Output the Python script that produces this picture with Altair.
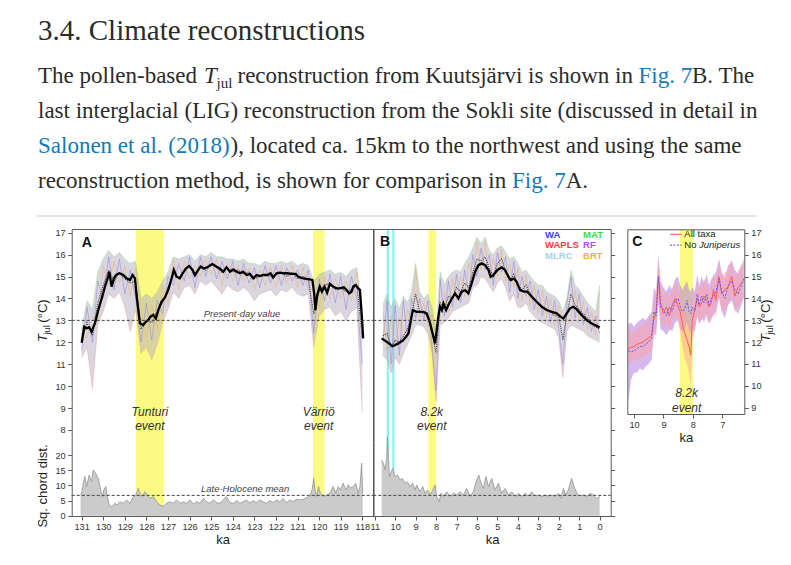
import altair as alt
import pandas as pd

SERIF = "Liberation Serif"
SANS = "Liberation Sans"
INK = "#2b2b2b"
LINK = "#1479b8"
YELLOW = "#fbfb84"
CYAN = "#86f2f6"

# ------------------------------------------------------------------ data
# Panel A (Sokli, LIG): smoothed Tjul (age ka, degC)
A_SMOOTH = [(131.00, 11.98), (130.88, 12.71), (130.77, 12.64), (130.65, 12.68), (130.54, 12.49),
            (130.38, 12.87), (130.23, 13.47), (130.07, 14.01), (129.92, 14.54), (129.77, 14.99),
            (129.72, 15.22), (129.61, 14.54), (129.50, 14.92), (129.41, 15.07), (129.26, 15.15),
            (129.07, 15.07), (128.92, 14.92), (128.76, 14.84), (128.64, 15.07), (128.53, 14.92),
            (128.45, 14.08), (128.30, 12.87), (128.15, 12.79), (128.02, 12.94), (127.91, 13.02),
            (127.81, 13.17), (127.68, 13.25), (127.56, 13.09), (127.45, 13.47), (127.30, 13.85),
            (127.14, 14.05), (126.99, 14.39), (126.83, 14.92), (126.73, 15.30), (126.60, 14.99),
            (126.45, 14.92), (126.32, 15.15), (126.17, 15.37), (126.02, 15.48), (125.86, 15.30),
            (125.75, 15.07), (125.60, 15.30), (125.49, 15.45), (125.34, 15.37), (125.14, 15.45),
            (124.94, 15.57), (124.75, 15.45), (124.60, 15.37), (124.44, 15.22), (124.29, 15.42),
            (124.13, 15.22), (123.98, 15.33), (123.82, 15.22), (123.67, 15.15), (123.52, 15.22),
            (123.36, 15.07), (123.21, 15.12), (123.05, 14.92), (122.90, 15.07), (122.74, 15.02),
            (122.59, 15.07), (122.40, 15.07), (122.25, 15.15), (122.13, 14.96), (121.97, 15.15),
            (121.82, 15.18), (121.66, 15.15), (121.48, 15.15), (121.28, 15.12), (121.08, 15.12),
            (120.97, 14.99), (120.74, 14.92), (120.43, 14.87), (120.31, 14.84), (120.23, 14.23),
            (120.17, 13.47), (120.09, 14.16), (119.97, 14.54), (119.87, 14.31), (119.75, 14.54),
            (119.63, 14.26), (119.50, 14.66), (119.35, 14.54), (119.19, 14.46), (119.04, 14.46),
            (118.85, 14.51), (118.73, 14.39), (118.61, 14.23), (118.50, 14.31), (118.42, 14.54),
            (118.30, 14.61), (118.19, 14.46), (118.11, 14.39), (118.01, 13.02), (117.96, 12.18)]

# Panel A: spread of the six reconstructions (age, max, min, two individual methods, raw mean)
A_NOISE = [(131.00, 12.6, 11.3, 11.6, 12.4, 12.0), (130.75, 13.9, 11.8, 13.6, 12.2, 12.9),
           (130.50, 13.5, 9.9, 12.0, 13.2, 12.3), (130.25, 15.2, 12.8, 14.8, 13.0, 13.8),
           (130.00, 15.8, 13.4, 14.0, 15.5, 14.6), (129.75, 16.2, 14.2, 15.9, 14.6, 15.3),
           (129.50, 15.9, 14.0, 14.4, 15.7, 14.8), (129.25, 16.1, 14.3, 15.8, 14.7, 15.2),
           (129.00, 15.8, 13.6, 14.2, 15.5, 14.9), (128.75, 15.6, 12.5, 15.3, 14.1, 14.7),
           (128.50, 15.7, 13.5, 14.0, 15.4, 14.8), (128.25, 14.0, 11.5, 12.0, 13.6, 12.6),
           (128.00, 14.2, 11.8, 13.8, 12.2, 13.0), (127.75, 14.0, 11.2, 12.1, 13.7, 12.9),
           (127.50, 14.3, 11.9, 13.9, 12.6, 13.4), (127.25, 14.8, 12.9, 13.3, 14.6, 13.8),
           (127.00, 15.2, 13.5, 15.0, 13.8, 14.5), (126.75, 15.9, 14.3, 14.6, 15.8, 15.1),
           (126.50, 15.8, 14.0, 15.6, 14.4, 14.9), (126.25, 15.9, 14.5, 14.8, 15.7, 15.3),
           (126.00, 16.0, 14.6, 15.9, 14.9, 15.5), (125.75, 15.7, 14.2, 14.5, 15.5, 15.0),
           (125.50, 16.0, 14.8, 15.9, 15.0, 15.5), (125.25, 15.9, 14.6, 15.0, 15.8, 15.3),
           (125.00, 16.1, 14.8, 15.9, 15.1, 15.6), (124.75, 15.9, 14.5, 14.9, 15.8, 15.4),
           (124.50, 15.9, 14.2, 15.7, 14.6, 15.2), (124.25, 15.8, 14.6, 14.9, 15.6, 15.4),
           (124.00, 15.8, 14.4, 15.7, 14.8, 15.2), (123.75, 15.7, 14.3, 14.6, 15.5, 15.3),
           (123.50, 15.8, 14.5, 15.6, 14.8, 15.1), (123.25, 15.6, 14.3, 14.7, 15.4, 15.2),
           (123.00, 15.6, 13.9, 15.4, 14.4, 14.9), (122.75, 15.5, 14.2, 14.5, 15.3, 15.0),
           (122.50, 15.7, 14.3, 15.5, 14.6, 15.1), (122.25, 15.6, 14.4, 14.7, 15.4, 15.0),
           (122.00, 15.6, 14.1, 15.5, 14.5, 15.1), (121.75, 15.7, 14.4, 14.6, 15.5, 15.2),
           (121.50, 15.6, 14.3, 15.4, 14.7, 15.0), (121.25, 15.7, 14.5, 14.8, 15.5, 15.2),
           (121.00, 15.5, 14.2, 15.3, 14.5, 14.9), (120.75, 15.6, 14.1, 14.6, 15.4, 15.0),
           (120.50, 15.5, 14.2, 15.3, 14.4, 14.8), (120.25, 14.8, 11.8, 12.4, 14.2, 13.3),
           (120.00, 15.1, 13.2, 14.9, 13.6, 14.3), (119.75, 15.2, 13.5, 13.9, 15.0, 14.6),
           (119.50, 15.3, 13.6, 15.1, 14.0, 14.7), (119.25, 15.1, 13.2, 13.8, 14.9, 14.4),
           (119.00, 15.2, 13.4, 15.0, 14.0, 14.5), (118.75, 15.0, 13.0, 13.5, 14.8, 14.3),
           (118.50, 15.3, 13.4, 15.0, 13.9, 14.4), (118.25, 15.4, 13.6, 14.0, 15.2, 14.6),
           (118.00, 13.5, 8.8, 11.0, 12.8, 12.2)]

# Panel A: squared chord distance to nearest modern analogue
A_CHORD = [(131.05, 7.0), (131.00, 7.4), (130.92, 10.7), (130.85, 12.9), (130.77, 9.6), (130.65, 13.4),
           (130.54, 11.2), (130.46, 15.1), (130.35, 14.0), (130.23, 12.3), (130.12, 8.5), (130.03, 6.3),
           (129.97, 8.6), (129.88, 9.6), (129.81, 6.3), (129.72, 3.5), (129.61, 3.0), (129.46, 4.1),
           (129.35, 3.5), (129.23, 4.6), (129.07, 4.1), (128.92, 5.2), (128.76, 4.1), (128.61, 6.3),
           (128.49, 6.8), (128.38, 9.0), (128.30, 7.4), (128.18, 6.3), (128.07, 7.9), (127.96, 6.8),
           (127.84, 5.7), (127.68, 6.3), (127.53, 4.6), (127.38, 3.5), (127.22, 3.0), (127.07, 4.1),
           (126.91, 4.6), (126.76, 4.1), (126.60, 5.2), (126.45, 4.1), (126.29, 4.6), (126.14, 4.1),
           (125.98, 5.2), (125.83, 3.8), (125.68, 4.6), (125.52, 4.1), (125.37, 5.7), (125.21, 4.6),
           (125.06, 4.1), (124.90, 5.2), (124.75, 4.3), (124.60, 4.1), (124.44, 5.2), (124.29, 6.3),
           (124.13, 4.3), (123.98, 4.1), (123.82, 5.0), (123.67, 4.1), (123.52, 4.6), (123.36, 5.2),
           (123.21, 4.1), (123.05, 5.0), (122.90, 4.3), (122.74, 5.2), (122.59, 4.6), (122.44, 4.1),
           (122.28, 5.0), (122.13, 4.3), (121.97, 5.2), (121.82, 4.6), (121.66, 5.7), (121.51, 4.3),
           (121.36, 5.2), (121.20, 4.6), (121.05, 5.4), (120.89, 5.2), (120.74, 5.4), (120.58, 6.0),
           (120.43, 6.4), (120.31, 9.0), (120.25, 12.3), (120.19, 8.4), (120.12, 6.3), (120.03, 9.6),
           (119.94, 7.4), (119.81, 6.3), (119.66, 6.8), (119.50, 7.4), (119.35, 9.6), (119.23, 7.4),
           (119.12, 9.6), (119.01, 8.5), (118.89, 10.7), (118.76, 8.5), (118.65, 10.2), (118.55, 9.1),
           (118.42, 9.6), (118.30, 10.7), (118.19, 7.4), (118.11, 9.6), (118.03, 17.3), (117.98, 7.4)]

# Panel B (Kuutsjarvi, Holocene)
B_SMOOTH = [(10.66, 12.18), (10.41, 12.02), (10.12, 11.82), (9.84, 11.95), (9.60, 12.10), (9.35, 12.40),
            (9.14, 13.47), (8.95, 13.39), (8.62, 13.39), (8.46, 13.32), (8.29, 12.86), (8.13, 12.25),
            (8.05, 11.95), (7.97, 12.56), (7.89, 13.16), (7.81, 13.62), (7.72, 13.47), (7.64, 13.77),
            (7.51, 13.47), (7.40, 13.70), (7.27, 13.93), (7.07, 14.23), (6.91, 14.00), (6.75, 14.31),
            (6.58, 14.38), (6.42, 14.23), (6.26, 14.69), (6.09, 15.22), (5.93, 15.52), (5.77, 15.60),
            (5.60, 15.52), (5.44, 15.30), (5.33, 14.99), (5.20, 15.07), (5.00, 15.30), (4.79, 15.42),
            (4.63, 15.30), (4.46, 14.99), (4.35, 14.84), (4.19, 14.91), (4.06, 14.76), (3.89, 14.38),
            (3.70, 14.31), (3.53, 14.31), (3.32, 14.08), (3.08, 13.85), (2.83, 13.62), (2.59, 13.47),
            (2.34, 13.39), (2.10, 13.32), (1.90, 13.16), (1.77, 13.09), (1.61, 13.32), (1.45, 13.55),
            (1.29, 13.62), (1.12, 13.50), (0.88, 13.24), (0.63, 13.01), (0.39, 12.86), (0.15, 12.75),
            (0.00, 12.68)]

B_NOISE = [(10.6, 13.7, 11.4, 12.0, 13.4, 12.3), (10.4, 14.2, 11.2, 13.9, 11.6, 12.4),
           (10.2, 13.6, 10.6, 11.0, 13.2, 11.8), (10.0, 14.0, 11.3, 13.7, 11.8, 12.1),
           (9.8, 13.5, 11.0, 11.4, 13.1, 12.0), (9.6, 14.1, 11.5, 13.9, 12.0, 12.3),
           (9.4, 13.8, 11.9, 12.2, 13.5, 12.6), (9.2, 14.3, 12.3, 14.0, 12.8, 13.2),
           (9.0, 15.6, 12.8, 13.1, 15.4, 14.2), (8.8, 14.3, 12.8, 14.0, 13.1, 13.4),
           (8.6, 14.0, 12.7, 13.0, 13.8, 13.3), (8.4, 14.2, 12.4, 13.9, 12.7, 13.2),
           (8.2, 13.6, 11.5, 11.8, 13.3, 12.5), (8.0, 12.6, 9.3, 9.8, 12.2, 11.5),
           (7.8, 15.2, 12.8, 14.9, 13.2, 13.8), (7.6, 14.6, 12.9, 13.2, 14.3, 13.5),
           (7.4, 15.0, 13.1, 14.8, 13.4, 14.1), (7.2, 15.2, 13.4, 13.6, 14.9, 14.0),
           (7.0, 15.3, 13.5, 15.1, 13.9, 14.5), (6.8, 15.2, 13.6, 13.8, 15.0, 14.3),
           (6.6, 15.6, 13.7, 15.3, 14.1, 14.7), (6.4, 15.9, 13.8, 14.2, 15.6, 14.5),
           (6.2, 16.3, 14.5, 16.0, 14.8, 15.2), (6.0, 16.8, 14.6, 15.0, 16.6, 15.8),
           (5.8, 16.5, 15.0, 16.3, 15.3, 15.7), (5.6, 16.8, 14.9, 15.3, 16.6, 15.9),
           (5.4, 16.2, 14.6, 16.0, 14.9, 15.4), (5.2, 16.0, 14.3, 14.6, 15.8, 15.0),
           (5.0, 16.3, 14.7, 16.1, 15.0, 15.6), (4.8, 16.4, 14.9, 15.2, 16.2, 15.8),
           (4.6, 16.1, 14.5, 15.9, 14.8, 15.3), (4.4, 15.8, 13.9, 14.3, 15.6, 14.8),
           (4.2, 15.9, 14.2, 15.7, 14.5, 15.1), (4.0, 15.6, 13.6, 14.0, 15.4, 14.6),
           (3.8, 15.2, 13.6, 15.0, 13.9, 14.4), (3.6, 15.3, 13.8, 14.1, 15.1, 14.6),
           (3.4, 15.0, 13.4, 14.8, 13.7, 14.2), (3.2, 14.8, 13.2, 13.5, 14.6, 14.0),
           (3.0, 14.6, 13.0, 14.4, 13.3, 13.8), (2.8, 14.6, 12.9, 13.2, 14.4, 13.6),
           (2.6, 14.3, 12.8, 14.1, 13.1, 13.5), (2.4, 14.2, 12.7, 12.9, 14.0, 13.4),
           (2.2, 14.1, 12.6, 13.9, 12.8, 13.2), (2.0, 13.9, 12.2, 12.6, 13.7, 13.2),
           (1.8, 13.4, 10.4, 11.0, 13.0, 12.1), (1.6, 14.0, 12.5, 13.8, 12.8, 13.3),
           (1.4, 15.3, 12.8, 15.0, 13.2, 14.2), (1.2, 14.6, 12.7, 13.1, 14.4, 13.7),
           (1.0, 14.4, 12.6, 14.2, 12.9, 13.5), (0.8, 14.1, 12.5, 12.8, 13.9, 13.3),
           (0.6, 13.8, 12.3, 13.6, 12.6, 13.1), (0.4, 13.6, 12.2, 12.5, 13.4, 12.9),
           (0.2, 13.4, 12.1, 13.2, 12.3, 12.7), (0.0, 14.6, 12.0, 12.4, 14.3, 12.6)]

B_CHORD = [(10.66, 18.4), (10.58, 17.3), (10.49, 15.1), (10.41, 19.5), (10.38, 26.0), (10.28, 12.9),
           (10.22, 14.0), (10.12, 15.6), (10.01, 12.9), (9.89, 13.4), (9.76, 11.8), (9.65, 12.3),
           (9.52, 10.7), (9.40, 11.2), (9.27, 9.6), (9.14, 10.7), (9.03, 8.5), (8.95, 10.1),
           (8.78, 7.9), (8.65, 9.6), (8.54, 7.4), (8.42, 8.5), (8.29, 6.8), (8.16, 8.5), (8.05, 10.1),
           (7.97, 6.3), (7.85, 4.6), (7.76, 7.4), (7.64, 6.3), (7.48, 7.9), (7.32, 6.3), (7.15, 7.4),
           (6.99, 6.8), (6.83, 7.9), (6.66, 6.8), (6.50, 9.0), (6.34, 6.3), (6.18, 7.9), (6.01, 11.8),
           (5.91, 13.4), (5.82, 11.2), (5.69, 9.0), (5.56, 12.9), (5.44, 9.6), (5.28, 12.3),
           (5.12, 8.5), (4.95, 10.7), (4.79, 7.4), (4.63, 9.0), (4.46, 6.8), (4.30, 7.9), (4.14, 6.3),
           (3.97, 7.4), (3.81, 6.3), (3.65, 7.4), (3.49, 6.5), (3.32, 7.9), (3.16, 6.5), (3.00, 6.8),
           (2.83, 6.3), (2.67, 6.8), (2.51, 6.5), (2.34, 6.8), (2.18, 6.3), (2.02, 7.4), (1.89, 5.7),
           (1.77, 9.0), (1.66, 6.8), (1.53, 8.5), (1.37, 12.3), (1.25, 9.6), (1.12, 7.4), (0.96, 6.5),
           (0.80, 6.8), (0.63, 6.3), (0.47, 7.4), (0.31, 6.8), (0.14, 5.7), (0.00, 6.5)]

# Panel C: all taxa vs. no Juniperus (age, all, noJ, all_lo, all_hi, noJ_lo, noJ_hi)
C_SERIES = [(10.20, 11.70, 11.60, 11.0, 12.7, 9.2, 12.8), (10.10, 11.75, 11.55, 11.1, 12.5, 10.3, 12.9),
            (10.00, 11.80, 11.60, 11.2, 12.5, 10.6, 12.7), (9.90, 11.90, 11.70, 11.2, 12.6, 10.6, 12.9),
            (9.80, 11.95, 11.80, 11.3, 12.7, 10.8, 13.0), (9.70, 12.00, 11.80, 11.3, 12.8, 10.7, 13.1),
            (9.60, 12.10, 11.90, 11.4, 12.9, 10.9, 13.0), (9.50, 12.20, 12.00, 11.5, 13.1, 11.0, 13.2),
            (9.40, 12.30, 12.20, 11.6, 13.2, 11.2, 13.4), (9.33, 13.00, 13.40, 12.2, 13.8, 12.4, 14.5),
            (9.25, 13.40, 13.20, 12.6, 14.2, 12.3, 14.3), (9.17, 15.00, 15.00, 14.0, 15.8, 13.8, 16.0),
            (9.10, 13.80, 13.60, 13.0, 14.6, 12.6, 14.8), (9.00, 13.30, 13.50, 12.6, 14.1, 12.5, 14.5),
            (8.90, 13.60, 13.20, 12.9, 14.4, 12.3, 14.3), (8.80, 13.20, 13.60, 12.4, 14.0, 12.6, 14.6),
            (8.70, 13.70, 13.40, 13.0, 14.5, 12.5, 14.4), (8.60, 14.00, 13.90, 13.2, 14.8, 12.9, 14.9),
            (8.50, 13.60, 14.00, 12.9, 14.4, 13.0, 15.0), (8.43, 13.40, 13.60, 12.5, 14.2, 12.6, 14.6),
            (8.35, 12.80, 13.40, 11.8, 13.6, 12.5, 14.4), (8.28, 12.40, 13.50, 11.3, 13.4, 12.6, 14.6),
            (8.20, 12.10, 13.90, 11.0, 13.2, 12.9, 14.8), (8.13, 11.80, 13.40, 10.6, 13.0, 12.5, 14.4),
            (8.07, 11.40, 13.30, 10.0, 12.6, 12.4, 14.3), (8.02, 13.00, 13.60, 12.0, 13.7, 12.6, 14.5),
            (7.93, 13.50, 13.40, 12.7, 14.3, 12.5, 14.3), (7.85, 14.00, 14.20, 13.2, 14.8, 13.2, 15.1),
            (7.78, 13.60, 13.70, 12.9, 14.4, 12.8, 14.6), (7.70, 13.80, 14.10, 13.0, 14.6, 13.1, 15.0),
            (7.62, 14.10, 13.80, 13.3, 14.9, 12.9, 14.7), (7.53, 13.90, 14.20, 13.1, 14.7, 13.3, 15.1),
            (7.45, 13.60, 13.70, 12.9, 14.4, 12.8, 14.6), (7.37, 13.80, 14.00, 13.0, 14.6, 13.1, 14.9),
            (7.30, 14.40, 14.10, 13.6, 15.2, 13.2, 15.0), (7.22, 13.90, 14.30, 13.1, 14.7, 13.4, 15.2),
            (7.11, 15.00, 14.90, 14.2, 15.8, 14.0, 15.8), (7.02, 14.20, 14.30, 13.4, 15.0, 13.4, 15.2),
            (6.91, 14.40, 14.00, 13.6, 15.2, 13.1, 14.9), (6.80, 14.50, 14.60, 13.7, 15.3, 13.7, 15.5),
            (6.68, 15.00, 14.80, 14.2, 15.8, 13.9, 15.7), (6.57, 14.10, 14.40, 13.3, 14.9, 13.5, 15.3),
            (6.46, 14.50, 14.20, 13.7, 15.3, 13.3, 15.1), (6.35, 14.70, 14.60, 13.9, 15.5, 13.7, 15.5),
            (6.27, 14.80, 14.90, 14.0, 15.6, 14.0, 15.8)]

A_EVENTS = [(128.49, 127.19), (120.28, 119.75)]
B_EVENTS = [(8.38, 8.00)]
C_EVENTS = [(8.44, 8.00)]
B_CYAN = [10.36, 10.09]
PRESENT_DAY = 13.0
LATE_HOLOCENE_MEAN = 6.7

A_AGE_TICKS = [131, 130, 129, 128, 127, 126, 125, 124, 123, 122, 121, 120, 119, 118]
B_AGE_TICKS = [11, 10, 9, 8, 7, 6, 5, 4, 3, 2, 1, 0]
C_AGE_TICKS = [10, 9, 8, 7]
T_TICKS = [8, 9, 10, 11, 12, 13, 14, 15, 16, 17]
C_T_TICKS = [9, 10, 11, 12, 13, 14, 15, 16, 17]
CHORD_TICKS = [0, 5, 10, 15, 20]

# ------------------------------------------------------------------ scales
A_XD, B_XD, C_XD = [131.46, 117.49], [11.07, -0.54], [10.23, 6.25]
T_D, CH_D, C_TD = [7.45, 17.17], [-0.1, 24.3], [8.71, 17.16]

A_X = alt.Scale(domain=A_XD, range=[71.7, 373.3], nice=False, zero=False)
B_X = alt.Scale(domain=B_XD, range=[373.3, 610.7], nice=False, zero=False)
C_X = alt.Scale(domain=C_XD, range=[627.3, 744.3], nice=False, zero=False)
T_Y = alt.Scale(domain=T_D, range=[442, 229], nice=False, zero=False)
CH_Y = alt.Scale(domain=CH_D, range=[516, 442], nice=False, zero=False)
C_Y = alt.Scale(domain=C_TD, range=[414, 229.3], nice=False, zero=False)


def axis(orient, offset, values=None, labels=False, ticks=False, title=None,
         dcolor="#5a5a5a", dwidth=1.0):
    kw = dict(orient=orient, offset=offset, grid=False, domain=True,
              domainColor=dcolor, domainWidth=dwidth, labels=labels, ticks=ticks,
              tickColor="#5a5a5a", tickSize=4, tickWidth=1,
              labelColor="#333333", labelFont=SANS, labelFontSize=9.2,
              labelPadding=2.5, labelFlush=False, labelOverlap=False, format="d",
              titleFont=SANS, titleFontSize=13, titleFontWeight="normal",
              titleColor="#222222", titlePadding=2, zindex=1, title=title)
    if values is not None:
        kw["values"] = values
    return alt.Axis(**kw)


def xy(xf, xs, yf, ys, xaxis=None, yaxis=None):
    return dict(x=alt.X(xf, type="quantitative", scale=xs, axis=xaxis),
                y=alt.Y(yf, type="quantitative", scale=ys, axis=yaxis))


def frame_df(events, ydom):
    d = pd.DataFrame(events, columns=["a0", "a1"])
    d["lo"] = ydom[0]
    d["hi"] = ydom[1]
    return d


def rects(events, xs, ys, ydom, xaxis=None, yaxis=None):
    return alt.Chart(frame_df(events, ydom)).mark_rect(color=YELLOW).encode(
        x2="a1", y2="hi", **xy("a0", xs, "lo", ys, xaxis, yaxis))


def cyan(ys, ydom):
    d = pd.DataFrame({"age": B_CYAN, "lo": ydom[0], "hi": ydom[1]})
    return alt.Chart(d).mark_rule(color=CYAN, strokeWidth=2.2).encode(
        y2="hi", **xy("age", B_X, "lo", ys))


def dashed(value, xdom, xs, ys, yaxis=None):
    d = pd.DataFrame({"a0": [xdom[0]], "a1": [xdom[1]], "v": [value]})
    return alt.Chart(d).mark_rule(color="#444444", strokeWidth=1, strokeDash=[3, 2]).encode(
        x2="a1", **xy("a0", xs, "v", ys, None, yaxis))


def noise_layers(noise, smooth, xs, ys):
    n = pd.DataFrame(noise, columns=["age", "hi", "lo", "z1", "z2", "zd"])
    s = pd.DataFrame(smooth, columns=["age", "t"])
    return [
        alt.Chart(n).mark_area(color="#b4aec0", opacity=0.5).encode(y2="lo", **xy("age", xs, "hi", ys)),
        alt.Chart(n).mark_line(color="#8ad88a", strokeWidth=0.7, opacity=0.6).encode(**xy("age", xs, "hi", ys)),
        alt.Chart(n).mark_line(color="#e99a9a", strokeWidth=0.7, opacity=0.6).encode(**xy("age", xs, "lo", ys)),
        alt.Chart(n).mark_line(color="#8c7fe0", strokeWidth=0.7, opacity=0.7).encode(**xy("age", xs, "z1", ys)),
        alt.Chart(n).mark_line(color="#eeaf62", strokeWidth=0.7, opacity=0.7).encode(**xy("age", xs, "z2", ys)),
        alt.Chart(n).mark_line(color="#1e1e1e", strokeWidth=1.1, strokeDash=[1, 1.2], opacity=0.85).encode(**xy("age", xs, "zd", ys)),
        alt.Chart(s).mark_line(color="#000000", strokeWidth=2.3).encode(**xy("age", xs, "t", ys)),
    ]


def chord_layers(chord, xs):
    c = pd.DataFrame(chord, columns=["age", "v"])
    c["zero"] = 0.0
    return [
        alt.Chart(c).mark_area(color="#cbcbcb").encode(y2="zero", **xy("age", xs, "v", CH_Y)),
        alt.Chart(c).mark_line(color="#939393", strokeWidth=0.8).encode(**xy("age", xs, "v", CH_Y)),
    ]


def note(label, age, val, xs, ys, size=12, style="italic", weight="normal", color="#333333",
         align="center"):
    d = pd.DataFrame({"age": [age], "v": [val]})
    return alt.Chart(d).mark_text(font=SANS, fontSize=size, fontStyle=style, fontWeight=weight,
                                  color=color, align=align, baseline="middle").encode(
        text=alt.value(label), **xy("age", xs, "v", ys))


ONE = pd.DataFrame({"k": [0]})


def txt(s, x, y, size, color=INK, font=SERIF, style="normal", weight="normal", angle=0,
        align="left", baseline="alphabetic"):
    kw = dict(font=font, fontSize=size, color=color, fontStyle=style, fontWeight=weight,
              align=align, baseline=baseline)
    if angle:
        kw["angle"] = angle
    return alt.Chart(ONE).mark_text(**kw).encode(x=alt.value(x), y=alt.value(y), text=alt.value(s))


layers = []

# ------------------------------------------------------------------ page text
layers += [
    txt("3.4. Climate reconstructions", 38, 40, 29),
    txt("The pollen-based", 38, 83, 23),
    txt("T", 204, 83, 23, style="italic"),
    txt("jul", 216.5, 88, 15),
    txt("reconstruction from Kuutsjärvi is shown in", 237.5, 83, 23),
    txt("Fig. 7", 638.5, 83, 23, color=LINK),
    txt("B. The", 692, 83, 23),
    txt("last interglacial (LIG) reconstruction from the Sokli site (discussed in detail in", 38, 118, 23),
    txt("Salonen et al. (2018)", 38, 153, 23, color=LINK),
    txt("), located ca. 15km to the northwest and using the same", 230.5, 153, 23),
    txt("reconstruction method, is shown for comparison in", 38, 188, 23),
    txt("Fig. 7", 512, 188, 23, color=LINK),
    txt("A.", 565.7, 188, 23),
    alt.Chart(ONE).mark_rule(color="#cfcfcf", strokeWidth=1.2).encode(
        x=alt.value(36), x2=alt.value(757), y=alt.value(216)),
]

# ------------------------------------------------------------------ panel A
layers.append(rects(A_EVENTS, A_X, T_Y, T_D,
                    xaxis=axis("top", -229),
                    yaxis=axis("left", -71.7, T_TICKS, labels=True, ticks=True)))
layers += noise_layers(A_NOISE, A_SMOOTH, A_X, T_Y)
layers.append(dashed(PRESENT_DAY, A_XD, A_X, T_Y,
                     yaxis=axis("right", 373.3 - 791, dcolor="#444444", dwidth=1.4)))
layers.append(note("Present-day value", 123.57, 13.29, A_X, T_Y, size=9.5, color="#444444"))
layers.append(note("A", 131.0, 16.55, A_X, T_Y, size=14, style="normal", weight="bold",
                   color="#111111", align="left"))
for lab, age, v in [("Tunturi", 127.84, 8.81), ("event", 127.84, 8.18),
                    ("Värriö", 120.02, 8.81), ("event", 120.02, 8.18)]:
    layers.append(note(lab, age, v, A_X, T_Y))

layers.append(rects(A_EVENTS, A_X, CH_Y, CH_D,
                    xaxis=axis("bottom", 516 - 565, A_AGE_TICKS, labels=True, ticks=True, title="ka"),
                    yaxis=axis("left", -71.7, CHORD_TICKS, labels=True, ticks=True)))
layers += chord_layers(A_CHORD, A_X)
layers.append(dashed(LATE_HOLOCENE_MEAN, A_XD, A_X, CH_Y,
                     yaxis=axis("right", 373.3 - 791, dcolor="#444444", dwidth=1.4)))
layers.append(note("Late-Holocene mean", 123.43, 8.7, A_X, CH_Y, size=9.5, color="#444444"))

# ------------------------------------------------------------------ panel B
layers.append(rects(B_EVENTS, B_X, T_Y, T_D,
                    xaxis=axis("top", -229),
                    yaxis=axis("right", 610.7 - 791, T_TICKS, ticks=True)))
layers.append(cyan(T_Y, T_D))
layers += noise_layers(B_NOISE, B_SMOOTH, B_X, T_Y)
layers.append(dashed(PRESENT_DAY, B_XD, B_X, T_Y))
layers.append(note("B", 10.74, 16.58, B_X, T_Y, size=14, style="normal", weight="bold",
                   color="#111111", align="left"))
layers.append(note("8.2k", 8.21, 8.81, B_X, T_Y))
layers.append(note("event", 8.21, 8.18, B_X, T_Y))
for lab, age, v, col in [("WA", 2.67, 16.90, "#3c3cff"), ("WAPLS", 2.67, 16.44, "#ff3a3a"),
                         ("MLRC", 2.67, 15.96, "#a6d4e8"), ("MAT", 0.81, 16.90, "#3ade3a"),
                         ("RF", 0.81, 16.44, "#b04cff"), ("BRT", 0.81, 15.96, "#ffac38")]:
    layers.append(note(lab, age, v, B_X, T_Y, size=9.5, style="normal", weight="bold",
                       color=col, align="left"))

layers.append(rects(B_EVENTS, B_X, CH_Y, CH_D,
                    xaxis=axis("bottom", 516 - 565, B_AGE_TICKS, labels=True, ticks=True, title="ka"),
                    yaxis=axis("right", 610.7 - 791, CHORD_TICKS, ticks=True)))
layers.append(cyan(CH_Y, CH_D))
layers += chord_layers(B_CHORD, B_X)
layers.append(dashed(LATE_HOLOCENE_MEAN, B_XD, B_X, CH_Y))

# ------------------------------------------------------------------ panel C
cdf = pd.DataFrame(C_SERIES, columns=["age", "all", "noj", "alo", "ahi", "nlo", "nhi"])
layers.append(rects(C_EVENTS, C_X, C_Y, C_TD,
                    xaxis=axis("top", -229.3),
                    yaxis=axis("left", -627.3)))
layers.append(alt.Chart(cdf).mark_area(color="#b57ee0", opacity=0.55).encode(
    y2="nlo", **xy("age", C_X, "nhi", C_Y,
                   xaxis=axis("bottom", 414 - 565, C_AGE_TICKS, labels=True, ticks=True, title="ka"),
                   yaxis=axis("right", 744.3 - 791, C_T_TICKS, labels=True, ticks=True))))
layers.append(alt.Chart(cdf).mark_area(color="#ff9f9f", opacity=0.5).encode(
    y2="alo", **xy("age", C_X, "ahi", C_Y)))
layers.append(alt.Chart(cdf).mark_line(color="#ff5c5c", strokeWidth=1.0).encode(
    **xy("age", C_X, "all", C_Y)))
layers.append(alt.Chart(cdf).mark_line(color="#5a5aff", strokeWidth=1.0, strokeDash=[2, 1.5]).encode(
    **xy("age", C_X, "noj", C_Y)))
layers.append(note("C", 10.06, 16.56, C_X, C_Y, size=14, style="normal", weight="bold",
                   color="#111111", align="left"))
layers.append(note("8.2k", 8.21, 9.66, C_X, C_Y))
layers.append(note("event", 8.21, 8.97, C_X, C_Y))
leg = pd.DataFrame({"a0": [8.78, 8.78], "a1": [8.38, 8.38], "v": [16.93, 16.44]})
layers.append(alt.Chart(leg.iloc[[0]]).mark_rule(color="#ff6a6a", strokeWidth=1.2).encode(
    x2="a1", **xy("a0", C_X, "v", C_Y)))
layers.append(alt.Chart(leg.iloc[[1]]).mark_rule(color="#6a6aff", strokeWidth=1.2, strokeDash=[2, 1.5]).encode(
    x2="a1", **xy("a0", C_X, "v", C_Y)))
layers.append(note("All taxa", 8.29, 16.93, C_X, C_Y, size=9.5, style="normal", color="#222222", align="left"))
layers.append(note("No", 8.29, 16.44, C_X, C_Y, size=9.5, style="normal", color="#222222", align="left"))
layers.append(note("Juniperus", 7.79, 16.44, C_X, C_Y, size=9.5, style="italic", color="#222222", align="left"))

# ------------------------------------------------------------------ axis titles
for xc in (43, 766):
    layers += [
        txt("T", xc, 338, 13, color="#222222", font=SANS, style="italic", angle=270,
            align="center", baseline="middle"),
        txt("jul", xc + 3.5, 330, 9.5, color="#222222", font=SANS, angle=270,
            align="center", baseline="middle"),
        txt("(°C)", xc, 311, 13, color="#222222", font=SANS, angle=270,
            align="center", baseline="middle"),
    ]
layers.append(txt("Sq. chord dist.", 43, 486, 13, color="#222222", font=SANS, angle=270,
                  align="center", baseline="middle"))

chart = alt.layer(*layers).resolve_scale(x="independent", y="independent").properties(
    width=791, height=565, autosize=alt.AutoSizeParams(type="none"), padding=0,
    background="white",
).configure_view(strokeWidth=0)

chart.save("out.html", embed_options={"renderer": "svg", "actions": False})
